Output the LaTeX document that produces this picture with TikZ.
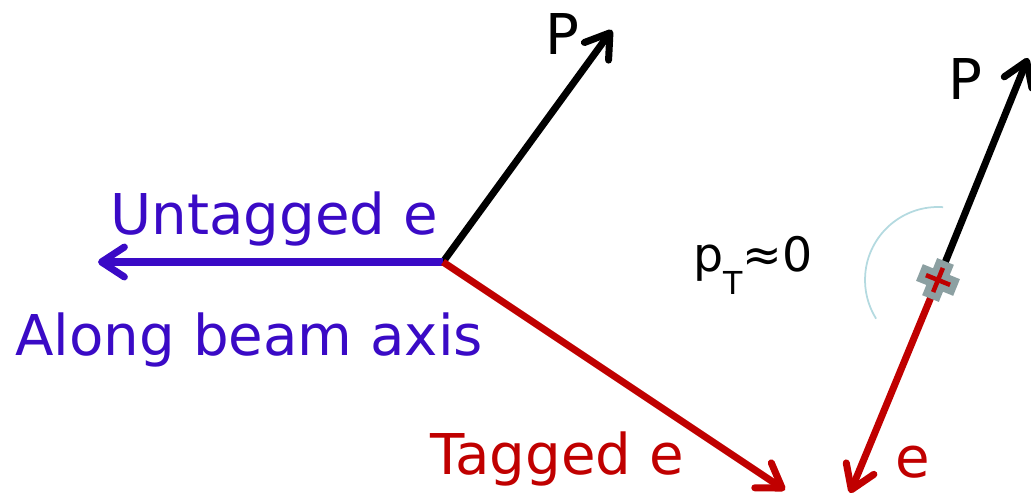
\documentclass[tikz,border=0pt]{standalone}
\usepackage{fontspec}
\setmainfont{DejaVu Sans}
\usetikzlibrary{arrows.meta}
\definecolor{tagred}{RGB}{192,0,0}
\definecolor{untagblue}{RGB}{58,10,198}
\definecolor{arcblue}{RGB}{180,218,224}
\definecolor{crossgray}{RGB}{140,160,162}
\tikzset{
  vec/.style={line width=4pt,-{Straight Barb[round,length=13pt,width=17pt]}},
  lbl/.style={font=\fontsize{32}{36}\selectfont,inner sep=0pt,anchor=base west},
}

\begin{document}
\begin{tikzpicture}[x=0.02cm,y=-0.02cm]
  \useasboundingbox (0,0) rectangle (1031,499);
  % tagged event
  \coordinate (vtx) at (443,262);
  \coordinate (ptip) at (612,30);
  \coordinate (utip) at (98,262);
  \coordinate (ttip) at (785,490);
  \draw[vec] (vtx) -- (ptip);
  \draw[vec,untagblue] (vtx) -- (utip);
  \draw[vec,tagred] (vtx) -- (ttip);
  \node[lbl] (plbl) at (545,55) {P};
  \node[lbl,text=untagblue] (ulbl) at (110,235) {Untagged e};
  \node[lbl,text=untagblue] (alonglbl) at (15,356) {Along beam axis};
  \node[lbl,text=tagred] (tlbl) at (430,475) {Tagged e};
  % back to back
  \coordinate (bvtx) at (938,280);
  \coordinate (bptip) at (1028,58);
  \coordinate (betip) at (850,493);
  \draw[arcblue,line width=1pt] (bvtx) ++(-86:73) arc[start angle=-86,end angle=-212,radius=73];
  \draw[vec] (bvtx) -- (bptip);
  \draw[vec,tagred] (bvtx) -- (betip);
  \begin{scope}[shift={(bvtx)},rotate=-22]
    \fill[crossgray] (-9,-20) rectangle (9,20) (-20,-9) rectangle (20,9);
    \draw[tagred,line width=2.6pt] (0,-13) -- (0,13) (-13,0) -- (13,0);
  \end{scope}
  \node[lbl] (bplbl) at (948,100) {P};
  \node[lbl,text=tagred] (belbl) at (895,478) {e};
  \node[lbl,font=\fontsize{27}{30}\selectfont] (ptlbl) at (693,272)
    {p\raisebox{-13pt}{\fontsize{18}{20}\selectfont T}≈0};
\end{tikzpicture}
\end{document}
